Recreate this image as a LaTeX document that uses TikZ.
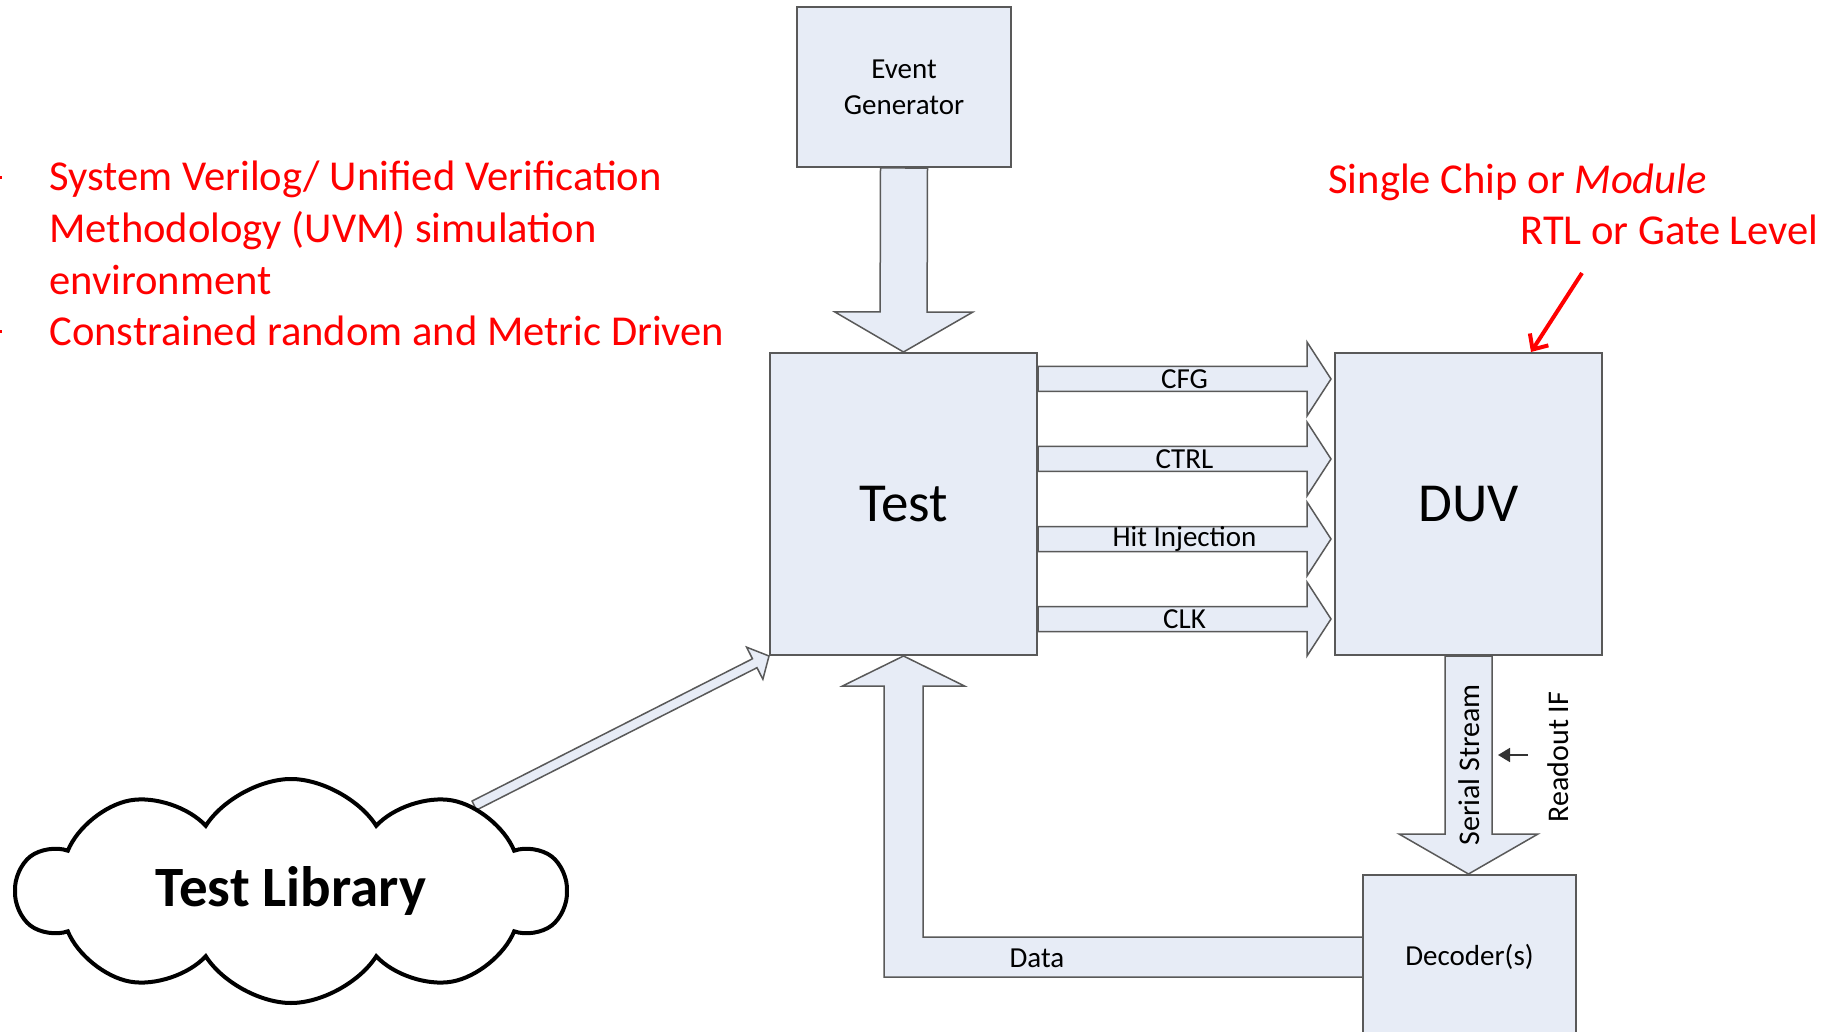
\documentclass[tikz,border=0pt]{standalone}
\usepackage{fontspec}
\setmainfont{Carlito}
\usetikzlibrary{calc,arrows.meta,shapes.symbols,backgrounds}

\definecolor{boxfill}{RGB}{231,236,246}
\definecolor{boxline}{RGB}{89,89,89}
\definecolor{annored}{RGB}{255,0,0}

% Block arrow from #1 to #2: shaft half-width #3, head half-width #4, head length #5
\newcommand\fatarrow[5]{%
  \path ($(#2)!#5!(#1)$) coordinate (fabase);
  \filldraw[barr] ($(#1)!#3!90:(#2)$) -- ($(fabase)!#3!-90:(#1)$)
    -- ($(fabase)!#4!-90:(#1)$) -- (#2) -- ($(fabase)!#4!90:(#1)$)
    -- ($(fabase)!#3!90:(#1)$) -- ($(#1)!#3!-90:(#2)$) -- cycle;
}

\begin{document}
\begin{tikzpicture}[x=0.5pt,y=-0.5pt,
  blk/.style={draw=boxline, fill=boxfill, line width=1pt, inner sep=0pt},
  barr/.style={draw=boxline, fill=boxfill, line width=0.75pt, line join=miter},
  lbl/.style={font=\fontsize{14.5}{18}\selectfont, inner sep=0pt},
  big/.style={font=\fontsize{27.5}{32}\selectfont},
  note/.style={text=annored, font=\fontsize{21.3}{26}\selectfont, inner sep=0pt, anchor=base west},
]
\useasboundingbox (0,0) rectangle (1828,1032);
\clip (0,0) rectangle (1828,1032);

% main blocks
\node[blk, minimum width=107pt, minimum height=80pt, align=center,
      font=\fontsize{14.5}{18}\selectfont] (eg) at (904,87) {Event\\Generator};
\node[blk, big, minimum width=133.5pt, minimum height=151pt] (test) at (903.5,504) {Test};
\node[blk, big, minimum width=133.5pt, minimum height=151pt] (duv) at (1468.5,504) {DUV};
\node[blk, lbl, minimum width=106.5pt, minimum height=82pt] (dec) at (1469.5,957) {Decoder(s)};

% test library cloud
\node[cloud, cloud puffs=10, cloud puff arc=115, cloud ignores aspect,
      draw=black, line width=2pt, fill=white,
      minimum width=274pt, minimum height=112pt,
      font=\bfseries\fontsize{28.5}{32}\selectfont] (lib) at (291,891) {Test Library};

% signal ends
\coordinate (cfgA)  at ($(test.north east)+(0,27)$);
\coordinate (cfgB)  at ($(duv.north west)+(-3,27)$);
\coordinate (ctrlA) at ($(test.north east)+(0,107)$);
\coordinate (ctrlB) at ($(duv.north west)+(-3,107)$);
\coordinate (hitA)  at ($(test.north east)+(0,187)$);
\coordinate (hitB)  at ($(duv.north west)+(-3,187)$);
\coordinate (clkA)  at ($(test.north east)+(0,267)$);
\coordinate (clkB)  at ($(duv.north west)+(-3,267)$);
\coordinate (serB)  at (duv.south |- dec.north);

\begin{scope}[on background layer]
  \fill[white] (0,0) rectangle (1828,1032);
  \fatarrow{eg.south}{test.north}{11.75pt}{34.5pt}{20pt}
  \fatarrow{cfgA}{cfgB}{6.25pt}{18.5pt}{12pt}
  \fatarrow{ctrlA}{ctrlB}{6.25pt}{18.5pt}{12pt}
  \fatarrow{hitA}{hitB}{6.25pt}{18.5pt}{12pt}
  \fatarrow{clkA}{clkB}{6.25pt}{18.5pt}{12pt}
  \fatarrow{duv.south}{serB}{11.75pt}{34.75pt}{20pt}
  \fatarrow{lib.25}{test.south west}{2.5pt}{9pt}{8pt}
  % data return path from the decoder back to the test
  \filldraw[barr] ($(dec.west)+(0,-20)$) -| ($(test.south)+(19.5,30)$)
    -- ($(test.south)+(61,30)$) -- (test.south) -- ($(test.south)+(-61,30)$)
    -- ($(test.south)+(-19.5,30)$) |- ($(dec.west)+(0,20)$);
\end{scope}

% signal labels
\node[lbl] (cfgL)  at ($(cfgA)!0.5!(cfgB)$)   {CFG};
\node[lbl] (ctrlL) at ($(ctrlA)!0.5!(ctrlB)$) {CTRL};
\node[lbl] (hitL)  at ($(hitA)!0.5!(hitB)$)   {Hit Injection};
\node[lbl] (clkL)  at ($(clkA)!0.5!(clkB)$)   {CLK};
\node[lbl] (dataL) at (1037,958) {Data};
\node[lbl, rotate=90, font=\fontsize{15}{18}\selectfont] (serL) at (1469,765) {Serial Stream};
\node[lbl, rotate=90, font=\fontsize{15}{18}\selectfont] (ro) at (1558,757) {Readout IF};

% readout interface pointer
\coordinate (roP) at (1528,755);
\draw[black!80, line width=0.9pt, -{Triangle[length=6pt,width=7pt]}] (roP) -- ++(-30,0);

% annotations
\node[note] (n1) at (49,190.5) {System Verilog/ Unified Verification};
\node[note] (n2) at (49,242.5) {Methodology (UVM) simulation};
\node[note] (n3) at (49,294.5) {environment};
\node[note] (n4) at (49,345.5) {Constrained random and Metric Driven};
\fill[annored] (0,176.5) rectangle (2,179.5);
\fill[annored] (0,330.5) rectangle (2,333.5);

\node[note] (chip) at (1328,193.5) {Single Chip or \textit{Module}};
\node[note] (rtl) at (1520,244.5) {RTL or Gate Level};
\coordinate (rtlP) at (1582,273);
\draw[annored, line width=2pt, -{Straight Barb[length=6pt,width=11pt]}]
  (rtlP) -- ($(duv.north)+(62.5,0)$);
\end{tikzpicture}
\end{document}
